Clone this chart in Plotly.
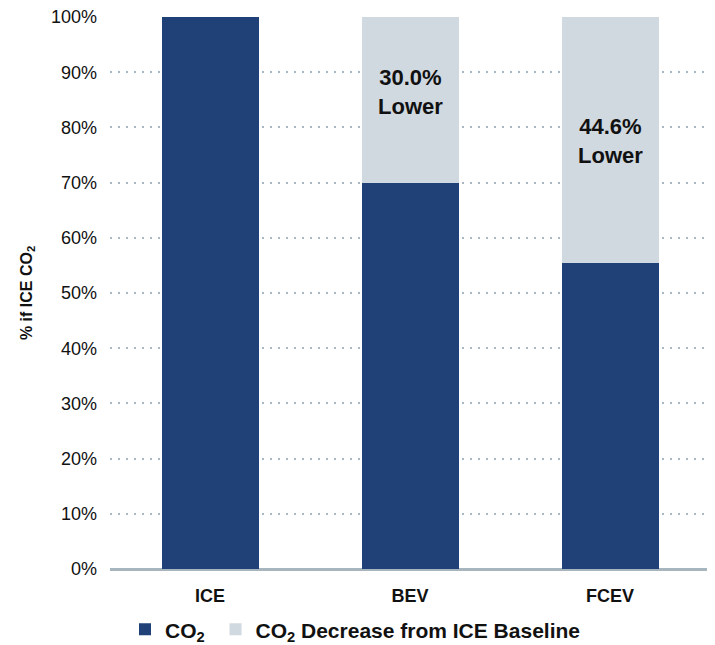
import plotly.graph_objects as go

categories = ["ICE", "BEV", "FCEV"]
co2_values = [100.0, 70.0, 55.4]
decrease_values = [0.0, 30.0, 44.6]
annotation_texts = ["", "30.0%<br>Lower", "44.6%<br>Lower"]
annotation_y = [None, 86.5, 77.5]
tick_vals = [0, 10, 20, 30, 40, 50, 60, 70, 80, 90, 100]
tick_text = [f"{v}%" for v in tick_vals]

dark = "#1f4178"
light = "#d0d8e0"
font_family = "Liberation Sans, Arial, sans-serif"

fig = go.Figure()
fig.add_trace(go.Bar(x=categories, y=co2_values, name="CO<sub>2</sub>\u00a0",
                     marker=dict(color=dark, line=dict(width=0)), width=0.485))
fig.add_trace(go.Bar(x=categories, y=decrease_values,
                     name="CO<sub>2</sub> Decrease from ICE Baseline",
                     marker=dict(color=light, line=dict(width=0)), width=0.485))

for cat, txt, yy in zip(categories, annotation_texts, annotation_y):
    if txt:
        fig.add_annotation(x=cat, y=yy, text="<b>" + txt + "</b>", showarrow=False,
                           font=dict(size=22, color="#111111", family=font_family))

# the page body adds an 8px offset; the figure is sized to compensate
fig.update_layout(
    barmode="stack",
    width=707, height=637,
    margin=dict(l=102, r=5, t=9, b=76, autoexpand=False),
    plot_bgcolor="white", paper_bgcolor="white",
    font=dict(family=font_family, color="#111111"),
    showlegend=True,
    legend=dict(orientation="h", x=0.025, xref="paper", y=0.024, yref="container",
                yanchor="middle",
                font=dict(size=21, family=font_family, color="#111111", weight="bold"),
                itemwidth=30, traceorder="normal"),
    xaxis=dict(showgrid=False, showline=False, ticks="", ticklabelstandoff=14,
               tickfont=dict(size=18, family=font_family, color="#111111", weight="bold")),
    yaxis=dict(range=[0, 100], tickvals=tick_vals, ticktext=tick_text,
               showgrid=True, gridcolor="#a9b7c2", griddash="2px,6px", gridwidth=2,
               zeroline=True, zerolinecolor="#a7b5bf", zerolinewidth=3,
               ticks="", ticklabelstandoff=12, ticklabeloverflow="allow",
               tickfont=dict(size=18, family=font_family, color="#111111")),
)
fig.update_yaxes(title=dict(text="<b>% if ICE CO<sub>2</sub></b>", standoff=14,
                            font=dict(size=16, family=font_family, color="#111111")))

fig.write_html("out.html")
